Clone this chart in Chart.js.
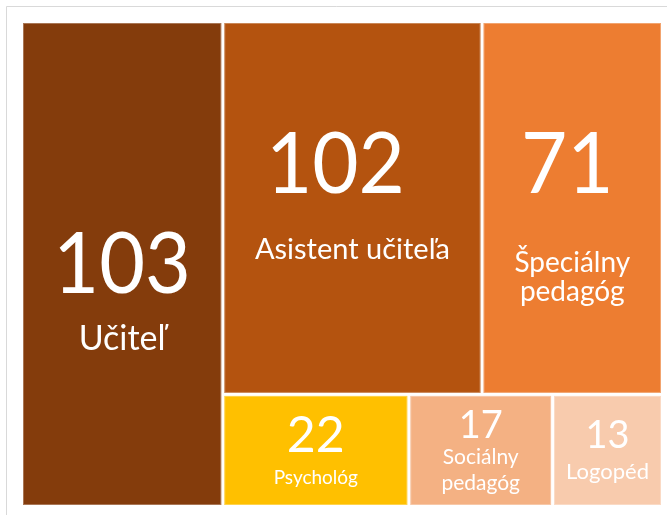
<!DOCTYPE html>
<html>
<head>
<meta charset="utf-8">
<script src="https://cdn.jsdelivr.net/npm/chart.js@4.4.1/dist/chart.umd.min.js"></script>
<style>
  html, body { margin: 0; padding: 0; background: #ffffff; }
  #wrap { position: relative; width: 667px; height: 515px; overflow: hidden; }
  canvas { display: block; }
</style>
</head>
<body>
<div id="wrap"><canvas id="c" width="667" height="515"></canvas></div>
<script>
// ---- data ----
const categories = ['Učiteľ', 'Asistent učiteľa', 'Špeciálny pedagóg', 'Psychológ', 'Sociálny pedagóg', 'Logopéd'];
const values = [103, 102, 71, 22, 17, 13];
// structural grouping of the treemap strips (indices into categories)
const layoutGroups = [[0], [1, 2], [3, 4, 5]];

// ---- styles (not data) ----
const cellColors = ['#843C0C', '#B4530F', '#ED7D31', '#FFC000', '#F4B183', '#F8CBAD'];
const labelStyles = [
  { num: 85, lab: 34, numDy: -2,  labDy: 86, numDx: 0,   sx: 0.93, lh: 1.05 },
  { num: 85, lab: 29, numDy: -46, labDy: 51, numDx: -17, sx: 0.94, lh: 1.05 },
  { num: 85, lab: 28, numDy: -46, labDy: 64, numDx: -5,  sx: 0.94, lh: 1.05 },
  { num: 50, lab: 19, numDy: -16, labDy: 34, numDx: 0,   sx: 1,    lh: 1.15 },
  { num: 38, lab: 21, numDy: -26, labDy: 14, numDx: 0,   sx: 1,    lh: 1.2 },
  { num: 38, lab: 22, numDy: -16, labDy: 29, numDx: 0,   sx: 1,    lh: 1.15 }
];
const FONT = 'Lato, "Open Sans", sans-serif';

// treemap layout in unit space [0,1]x[0,1]
function layoutTreemap(vals, groups) {
  const rects = new Array(vals.length);
  let area = { x: 0, y: 0, w: 1, h: 1 };
  const aspect = 641 / 485;
  let remaining = vals.reduce((a, b) => a + b, 0);
  groups.forEach(g => {
    const gSum = g.reduce((a, i) => a + vals[i], 0);
    const frac = gSum / remaining;
    let strip;
    const wider = area.w * aspect >= area.h;
    if (wider) {
      strip = { x: area.x, y: area.y, w: area.w * frac, h: area.h };
      area = { x: area.x + strip.w, y: area.y, w: area.w - strip.w, h: area.h };
    } else {
      strip = { x: area.x, y: area.y, w: area.w, h: area.h * frac };
      area = { x: area.x, y: area.y + strip.h, w: area.w, h: area.h - strip.h };
    }
    const stripHoriz = strip.w * aspect >= strip.h;
    let off = 0;
    g.forEach(i => {
      const f = vals[i] / gSum;
      if (stripHoriz) {
        rects[i] = { x: strip.x + off * strip.w, y: strip.y, w: strip.w * f, h: strip.h };
      } else {
        rects[i] = { x: strip.x, y: strip.y + off * strip.h, w: strip.w, h: strip.h * f };
      }
      off += f;
    });
    remaining -= gSum;
  });
  return rects;
}

const cells = layoutTreemap(values, layoutGroups);

function wrapText(ctx, text, maxW) {
  if (ctx.measureText(text).width <= maxW) return [text];
  const words = text.split(' ');
  const lines = [];
  let cur = '';
  words.forEach(w => {
    const t = cur ? cur + ' ' + w : w;
    if (cur && ctx.measureText(t).width > maxW) { lines.push(cur); cur = w; }
    else cur = t;
  });
  if (cur) lines.push(cur);
  return lines;
}

const treemapPlugin = {
  id: 'treemapCells',
  beforeDraw(chart) {
    const ctx = chart.ctx;
    ctx.save();
    ctx.fillStyle = '#ffffff';
    ctx.fillRect(0, 0, chart.width, chart.height);
    ctx.strokeStyle = '#D9D9D9';
    ctx.lineWidth = 1;
    ctx.beginPath();
    ctx.moveTo(6.5, chart.height);
    ctx.lineTo(6.5, 6.5);
    ctx.lineTo(chart.width, 6.5);
    ctx.stroke();
    ctx.restore();
  },
  afterDatasetsDraw(chart) {
    const ctx = chart.ctx;
    const xs = chart.scales.x, ys = chart.scales.y;
    const inset = 1.5;
    cells.forEach((r, i) => {
      const x0 = xs.getPixelForValue(r.x), x1 = xs.getPixelForValue(r.x + r.w);
      const y0 = ys.getPixelForValue(r.y), y1 = ys.getPixelForValue(r.y + r.h);
      const L = Math.min(x0, x1) + inset, R = Math.max(x0, x1) - inset;
      const T = Math.min(y0, y1) + inset, B = Math.max(y0, y1) - inset;
      ctx.save();
      ctx.fillStyle = cellColors[i];
      ctx.fillRect(L, T, R - L, B - T);
      ctx.strokeStyle = 'rgba(255,255,255,0.3)';
      ctx.lineWidth = 1;
      ctx.strokeRect(L + 0.5, T + 0.5, R - L - 1, B - T - 1);

      const st = labelStyles[i];
      const cx = (L + R) / 2, cy = (T + B) / 2;
      ctx.fillStyle = '#ffffff';
      ctx.textAlign = 'center';
      ctx.textBaseline = 'alphabetic';
      ctx.font = st.num + 'px ' + FONT;
      ctx.save();
      ctx.translate(cx + st.numDx, cy + st.numDy + st.num * 0.36);
      ctx.scale(st.sx, 1);
      ctx.fillText(String(values[i]), 0, 0);
      ctx.restore();
      ctx.font = st.lab + 'px ' + FONT;
      const lines = wrapText(ctx, categories[i], R - L - 16);
      lines.forEach((ln, k) => {
        ctx.fillText(ln, cx, cy + st.labDy + k * st.lab * st.lh);
      });
      ctx.restore();
    });
  }
};

function build() {
  new Chart(document.getElementById('c'), {
    type: 'scatter',
    data: {
      datasets: [{
        label: 'Počet',
        data: cells.map((r, i) => ({ x: r.x + r.w / 2, y: r.y + r.h / 2, v: values[i] })),
        pointRadius: 0,
        pointHoverRadius: 0
      }]
    },
    options: {
      responsive: false,
      animation: false,
      events: [],
      layout: { padding: { left: 21.5, top: 21.5, right: 4.5, bottom: 8.5 } },
      plugins: { legend: { display: false }, tooltip: { enabled: false }, title: { display: false } },
      scales: {
        x: { type: 'linear', min: 0, max: 1, display: false },
        y: { type: 'linear', min: 0, max: 1, reverse: true, display: false }
      }
    },
    plugins: [treemapPlugin]
  });
}

if (document.fonts && document.fonts.load) {
  Promise.all([document.fonts.load('86px Lato'), document.fonts.load('20px Lato')])
    .then(build, build);
} else {
  build();
}
</script>
</body>
</html>
